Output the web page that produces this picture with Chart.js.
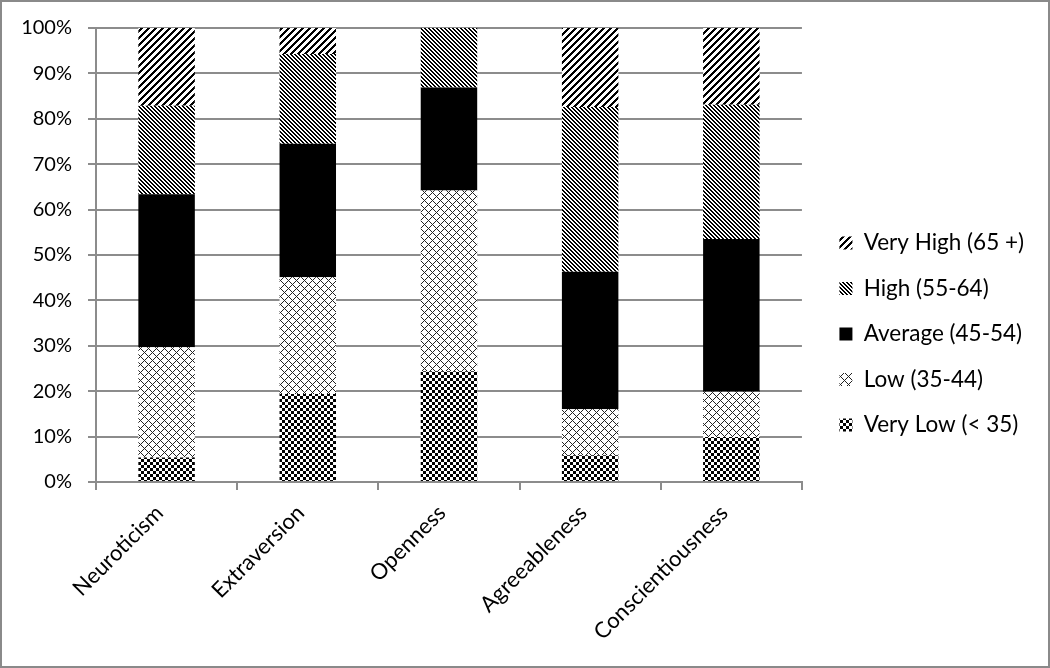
<!DOCTYPE html>
<html>
<head>
<meta charset="utf-8">
<script src="https://cdn.jsdelivr.net/npm/chart.js@4.4.1/dist/chart.umd.min.js"></script>
<style>
    html, body { margin: 0; padding: 0; background: #fff; }
    #wrap { position: relative; width: 1050px; height: 668px; }
</style>
</head>
<body>
<div id="wrap"><canvas id="traitsChart"></canvas></div>
<script>
// Kategoriler ve seriler (yüzde)
const categories = ['Neuroticism', 'Extraversion', 'Openness', 'Agreeableness', 'Conscientiousness'];
const seriesNames = ['Very Low (< 35)', 'Low (35-44)', 'Average (45-54)', 'High (55-64)', 'Very High (65 +)'];
const veryLow = [5.4, 19.4, 24.4, 5.9, 9.9];
const low = [24.3, 25.7, 39.8, 10.1, 10.0];
const average = [33.7, 29.4, 22.7, 30.3, 33.6];
const high = [19.5, 19.8, 13.1, 36.3, 29.6];
const veryHigh = [17.1, 5.7, 0, 17.4, 16.9];

const gray = '#8c8c8c';
const ctx = document.getElementById('traitsChart').getContext('2d');

// küçük piksel desenleri (Excel tarzı dolgu)
function makePattern(size, isInk, ink) {
    const c = document.createElement('canvas');
    c.width = size;
    c.height = size;
    const g = c.getContext('2d');
    g.fillStyle = '#fff';
    g.fillRect(0, 0, size, size);
    g.fillStyle = ink || '#000';
    for (let y = 0; y < size; y++) {
        for (let x = 0; x < size; x++) {
            if (isInk(x, y)) g.fillRect(x, y, 1, 1);
        }
    }
    return ctx.createPattern(c, 'repeat');
}

const checkerFill = makePattern(6, (x, y) => ((Math.floor(x / 3) + Math.floor(y / 3)) % 2) === 0);
const diamondFill = makePattern(8, (x, y) => (x + y) % 8 === 0 || (x - y + 8) % 8 === 0, '#222');
const denseDownFill = makePattern(4, (x, y) => (x - y + 4) % 4 < 2);
const wideUpFill = makePattern(7, (x, y) => (x + y) % 7 < 3);

const framePlugin = {
    id: 'frame',
    afterDraw(chart) {
        const c = chart.ctx;
        c.save();
        c.strokeStyle = '#8a8a8a';
        c.lineWidth = 2;
        c.strokeRect(1, 1, chart.width - 2, chart.height - 2);
        c.restore();
    }
};

Chart.defaults.font.family = 'Lato';
Chart.defaults.font.size = 20;
Chart.defaults.color = '#000';

new Chart(ctx, {
    type: 'bar',
    data: {
        labels: categories,
        datasets: [
            { label: seriesNames[0], data: veryLow, backgroundColor: checkerFill },
            { label: seriesNames[1], data: low, backgroundColor: diamondFill },
            { label: seriesNames[2], data: average, backgroundColor: '#000' },
            { label: seriesNames[3], data: high, backgroundColor: denseDownFill },
            { label: seriesNames[4], data: veryHigh, backgroundColor: wideUpFill }
        ]
    },
    options: {
        responsive: true,
        maintainAspectRatio: false,
        animation: false,
        layout: { padding: { top: 28, bottom: 28, left: 0, right: 16 } },
        datasets: { bar: { barPercentage: 0.4, categoryPercentage: 1, borderWidth: 0 } },
        plugins: {
            legend: {
                position: 'right',
                reverse: true,
                maxWidth: 320,
                labels: { boxWidth: 13, boxHeight: 13, padding: 23, color: '#000', font: { size: 22.5 } }
            },
            tooltip: { enabled: false }
        },
        scales: {
            x: {
                stacked: true,
                grid: { drawOnChartArea: false, tickLength: 8, color: gray, lineWidth: 2 },
                border: { color: gray, width: 2 },
                ticks: { minRotation: 45, maxRotation: 45, padding: 10, labelOffset: -7, color: '#000', font: { size: 22 } },
                afterFit(s) { s.height = 158; }
            },
            y: {
                stacked: true,
                min: 0,
                max: 100,
                ticks: { stepSize: 10, padding: 16, color: '#000', callback: v => v + '%' },
                grid: { color: gray, lineWidth: 2, tickLength: 8 },
                border: { color: gray, width: 2 },
                afterFit(s) { s.width = 96; }
            },
            yRight: {
                type: 'linear',
                position: 'right',
                grid: { display: false },
                ticks: { display: false },
                border: { display: false },
                afterFit(s) { s.width = 14.5; }
            }
        }
    },
    plugins: [framePlugin]
});
</script>
</body>
</html>
